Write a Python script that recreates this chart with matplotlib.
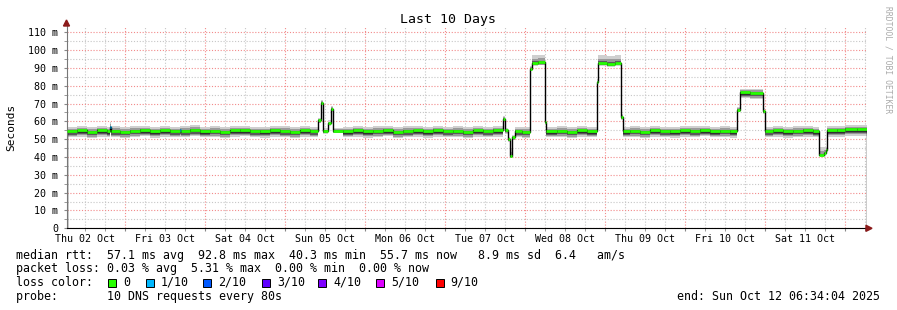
import numpy as np
import matplotlib
matplotlib.use("Agg")
import matplotlib.pyplot as plt
import matplotlib.dates as mdates
from matplotlib.patches import Rectangle, Polygon
from datetime import datetime, timedelta

# --- data (hours since start of window, median rtt in ms, smoke spread, loss tenths)
start = datetime(2025, 10, 2, 6, 34, 4)
end = datetime(2025, 10, 12, 6, 34, 4)

t_hours = [0, 3, 6, 9, 12, 13.0, 13.4, 16, 19, 22, 25, 28, 31, 33.9, 34.3, 37, 40, 43, 46, 49,
           52, 55, 58, 61, 64, 67, 70, 73,
           75.6, 76.2, 77.1, 78.3, 79.2, 80.1,
           83, 86, 89, 92, 95, 98, 101, 104, 107, 110, 113, 116, 119, 122, 125, 128,
           130.8, 131.5, 132.4, 133.0, 133.7, 134.5, 136.5,
           139.0, 139.5, 141.5, 143.5, 143.9,
           147, 150, 153, 156,
           159.0, 159.6, 162, 164.5, 166.3, 166.8,
           169, 172, 175, 178, 181, 184, 187, 190, 193, 196, 199,
           201.2, 201.9, 205, 208.8, 209.4,
           212, 215, 218, 221, 224,
           225.8, 227.2, 227.7, 228.2,
           231, 233.5, 237]
median_ms = [54.6, 54.9, 54.3, 55.0, 54.5, 57.0, 54.7, 54.2, 54.8, 55.1, 54.4, 54.9, 54.6, 55.0, 54.7, 55.2, 54.5, 54.8, 54.3, 54.9,
             55.1, 54.6, 54.4, 55.0, 54.7, 54.3, 54.9, 54.6,
             60.5, 70.5, 54.6, 59.0, 67.0, 54.8,
             54.5, 55.0, 54.4, 54.8, 55.1, 54.3, 54.7, 54.9, 54.4, 55.0, 54.6, 54.8, 54.3, 54.9, 54.6, 55.0,
             61.5, 55.0, 50.0, 40.4, 51.0, 54.6, 54.3,
             89.6, 92.8, 93.2, 59.7, 54.5,
             54.8, 54.3, 54.9, 54.5,
             82.0, 92.8, 92.4, 93.0, 62.5, 54.5,
             54.8, 54.3, 55.0, 54.6, 54.4, 54.9, 54.7, 55.1, 54.5, 54.8, 54.4,
             66.6, 76.2, 76.0, 65.8, 54.6,
             54.9, 54.4, 54.8, 55.0, 54.5,
             41.0, 42.2, 43.8, 54.9,
             55.0, 55.8, 55.7]
spread_lo = [3.5] * 28 + [1.5] * 6 + [3.5] * 16 + [1.5, 2.0, 1.5, 1.0, 1.5, 3.5, 3.5] + \
            [1.5, 1.8, 1.8, 1.5, 3.5] + [3.5] * 4 + [1.5, 1.8, 1.8, 1.8, 1.5, 3.5] + [3.5] * 11 + \
            [1.5, 3.3, 3.3, 1.5, 3.5] + [3.5] * 5 + [0.5, 0.5, 0.8, 3.5] + [3.5, 3.8, 3.8]
spread_hi = [2.5] * 28 + [1.5] * 6 + [2.5] * 16 + [1.5, 1.5, 1.5, 4.5, 1.5, 2.5, 2.5] + \
            [1.5, 4.2, 4.0, 1.5, 2.5] + [2.5] * 4 + [1.5, 4.2, 4.4, 4.0, 1.5, 2.5] + [2.5] * 11 + \
            [1.5, 2.2, 2.4, 1.5, 2.5] + [2.5] * 5 + [4.5, 3.5, 2.0, 2.5] + [2.5, 2.0, 2.0]
loss = [0] * len(t_hours)
loss[5] = 1
loss[13] = 1

loss_labels = ["0", "1/10", "2/10", "3/10", "4/10", "5/10", "9/10"]
loss_colors = ["#26ff00", "#00b8ff", "#0059ff", "#5e00ff", "#7e00ff", "#dd00ff", "#ff0000"]

W, H = 897, 310
mono = "DejaVu Sans Mono"

fig = plt.figure(figsize=(W / 100, H / 100), dpi=100)
fig.patch.set_facecolor("white")
ax = fig.add_axes([66.5 / W, (H - 228.3) / H, 800 / W, (228.3 - 26) / H])

edges = mdates.date2num([start + timedelta(hours=h) for h in t_hours] + [end])
med = np.array(median_ms)
lo = np.array(spread_lo)
hi = np.array(spread_hi)

# smoke
ax.stairs(med + hi, edges, baseline=med - lo, fill=True, color="#cfcfcf", lw=0)
ax.stairs(med + 0.55 * hi, edges, baseline=med - 0.8 * lo, fill=True, color="#9a9a9a", lw=0)
ax.stairs(med + 0.2 * hi, edges, baseline=med - 0.6 * lo, fill=True, color="#5a5a5a", lw=0)
ax.stairs(med, edges, baseline=med - 0.4 * lo, fill=True, color="#303030", lw=0)
# median
ax.stairs(med, edges, color="black", lw=1.0)
ax.hlines(med, edges[:-1], edges[1:], colors=[loss_colors[l] for l in loss], lw=2.0, zorder=4)

ax.set_xlim(edges[0], edges[-1])
ax.set_ylim(0, 113.5)

# grid
ax.set_yticks(np.arange(0, 111, 10))
ax.set_yticks(np.arange(5, 111, 10), minor=True)
ax.xaxis.set_major_locator(mdates.DayLocator())
ax.xaxis.set_minor_locator(mdates.HourLocator(byhour=[6, 12, 18]))
ax.grid(which="major", color="#f28a8a", lw=0.8, ls=(0, (1, 1.6)), zorder=0)
ax.grid(which="minor", color="#c6c6c6", lw=0.8, ls=(0, (1, 1.6)), zorder=0)
ax.set_axisbelow(True)

ax.set_yticklabels(["0"] + [f"{v} m" for v in range(10, 111, 10)], family=mono, fontsize=7.2)
ax.tick_params(axis="y", which="both", length=2, color="#888888", pad=4)
ax.tick_params(axis="x", which="both", length=2, color="#888888", labelbottom=False)

for d in range(2, 12):
    noon = mdates.date2num(datetime(2025, 10, d, 12))
    ax.text(noon, -0.028, datetime(2025, 10, d).strftime("%a %d %b"), transform=ax.get_xaxis_transform(),
            ha="center", va="top", family=mono, fontsize=7.2)

for s in ["top", "right"]:
    ax.spines[s].set_visible(False)
ax.spines["left"].set_color("#777777")
ax.spines["bottom"].set_color("black")

# arrows
fig.add_artist(Polygon([[866 / W, 1 - 225.3 / H], [866 / W, 1 - 231.3 / H], [872 / W, 1 - 228.3 / H]],
                       closed=True, color="#8b1a1a", transform=fig.transFigure))
fig.add_artist(Polygon([[63.5 / W, 1 - 26 / H], [69.5 / W, 1 - 26 / H], [66.5 / W, 1 - 20 / H]],
                       closed=True, color="#8b1a1a", transform=fig.transFigure))

fig.text(448 / W, 1 - 20 / H, "Last 10 Days", ha="center", va="center", family=mono, fontsize=9.5)
fig.text(11 / W, 1 - 127 / H, "Seconds", rotation=90, ha="center", va="center", family=mono, fontsize=8)
fig.text(888 / W, 1 - 60 / H, "RRDTOOL / TOBI OETIKER", rotation=270, ha="center", va="center",
         family=mono, fontsize=5.8, color="#aaaaaa")

rows = ["median rtt:  57.1 ms avg  92.8 ms max  40.3 ms min  55.7 ms now   8.9 ms sd  6.4   am/s",
        "packet loss: 0.03 % avg  5.31 % max  0.00 % min  0.00 % now",
        "loss color:",
        "probe:       10 DNS requests every 80s"]
for i, r in enumerate(rows):
    fig.text(16 / W, 1 - (255 + i * 13.7) / H, r, ha="left", va="center", family=mono, fontsize=8.4)

box_x = [108, 145.7, 203, 262, 318, 376, 435.7]
for bx, lab, col in zip(box_x, loss_labels, loss_colors):
    fig.add_artist(Rectangle((bx / W, 1 - 286.5 / H), 8 / W, 8 / H, facecolor=col, edgecolor="black",
                             lw=0.7, transform=fig.transFigure))
    fig.text((bx + 15) / W, 1 - 282.4 / H, lab, ha="left", va="center", family=mono, fontsize=8.4)

fig.text(880 / W, 1 - 296 / H, "end: Sun Oct 12 06:34:04 2025", ha="right", va="center", family=mono, fontsize=8.4)

fig.savefig("out.png", dpi=100, facecolor="white")
